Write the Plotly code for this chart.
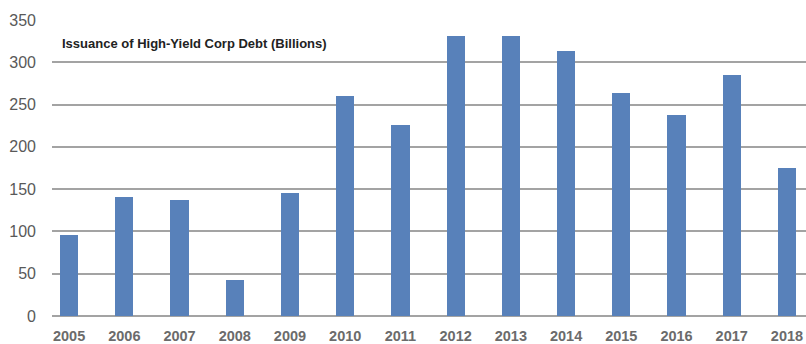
import plotly.graph_objects as go

# Annual high-yield corporate debt issuance, billions of dollars
years = [2005, 2006, 2007, 2008, 2009, 2010, 2011, 2012, 2013, 2014, 2015, 2016, 2017, 2018]
issuance = [96, 141, 137, 43, 145, 260, 226, 331, 331, 313, 264, 238, 285, 175]
year_labels = [str(y) for y in years]
y_ticks = [0, 50, 100, 150, 200, 250, 300, 350]

BAR_COLOR = "#5881BA"
GRID_COLOR = "#A3A3A3"

fig = go.Figure(
    go.Bar(
        x=years,
        y=issuance,
        width=0.33,
        marker=dict(color=BAR_COLOR, line=dict(width=0)),
        hovertemplate="%{x}: %{y}B<extra></extra>",
    )
)

fig.update_layout(
    width=806,
    height=344,
    margin=dict(l=52, r=0, t=20, b=28),
    paper_bgcolor="white",
    plot_bgcolor="white",
    showlegend=False,
    bargap=0,
    annotations=[
        dict(
            text="<b>Issuance of High-Yield Corp Debt (Billions)</b>",
            xref="paper",
            yref="paper",
            x=0.0105,
            y=0.922,
            xanchor="left",
            yanchor="middle",
            showarrow=False,
            font=dict(family="Liberation Sans, Arial, sans-serif", size=13, color="#222222"),
        )
    ],
)

fig.update_xaxes(
    range=[2004.69, 2018.345],
    tickmode="array",
    tickvals=years,
    ticktext=[f"<b>{t}</b>" for t in year_labels],
    tickfont=dict(family="Liberation Sans, Arial, sans-serif", size=14.5, color="#6B6B6B"),
    showgrid=False,
    zeroline=False,
    showline=False,
    ticks="",
    ticklabelstandoff=9,
    fixedrange=True,
)

fig.update_yaxes(
    range=[0, 350],
    tickmode="array",
    tickvals=y_ticks,
    ticktext=[str(v) for v in y_ticks],
    tickfont=dict(family="Liberation Sans, Arial, sans-serif", size=16, color="#595959"),
    showgrid=True,
    gridcolor=GRID_COLOR,
    gridwidth=1.5,
    zeroline=True,
    zerolinecolor=GRID_COLOR,
    zerolinewidth=1.5,
    showline=False,
    ticks="",
    ticklabelstandoff=15,
    fixedrange=True,
)

fig.write_html("out.html")
